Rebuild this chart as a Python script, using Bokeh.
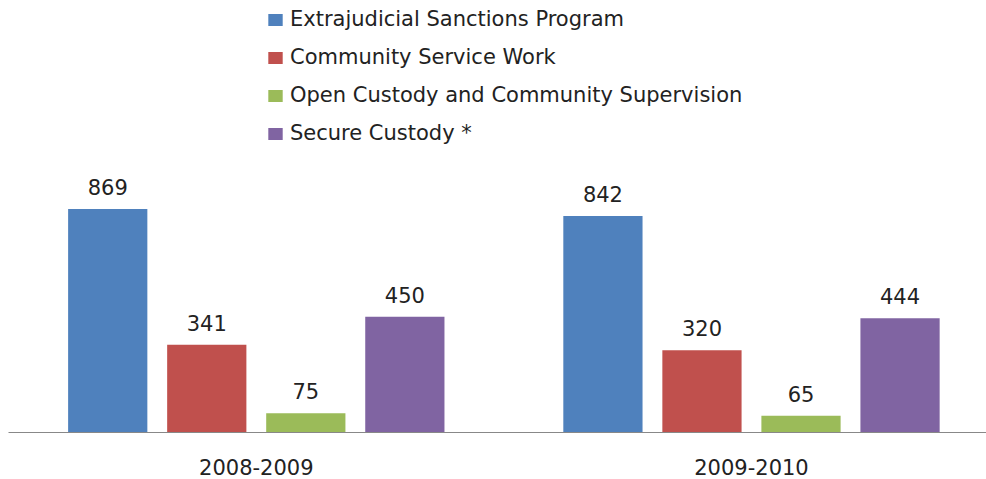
from bokeh.plotting import figure
from bokeh.models import ColumnDataSource, Range1d, FixedTicker
from bokeh.transform import dodge
from bokeh.core.properties import value
from bokeh.embed import file_html
from bokeh.resources import INLINE

years = ["2008-2009", "2009-2010"]
series = ["Extrajudicial Sanctions Program", "Community Service Work",
          "Open Custody and Community Supervision", "Secure Custody *"]
extrajudicial = [869, 842]
community_service = [341, 320]
open_custody = [75, 65]
secure_custody = [450, 444]
colors = ["#4F81BD", "#C0504D", "#9BBB59", "#8064A2"]

group_x = [i * 5 + 2 for i in range(len(years))]
values = [extrajudicial, community_service, open_custody, secure_custody]
offsets = [-1.5, -0.5, 0.5, 1.5]

FONT = "DejaVu Sans"
TEXT_COLOR = "#222222"
FS = "21px"

p = figure(width=986, height=479, output_backend="svg", toolbar_location=None,
           x_range=Range1d(-0.502, 9.373), y_range=Range1d(0, 1680),
           min_border_left=8, min_border_right=0, min_border_top=0,
           min_border_bottom=47)

for name, vals, col, off in zip(series, values, colors, offsets):
    src = ColumnDataSource(dict(x=group_x, y=vals, t=[str(v) for v in vals]))
    p.vbar(x=dodge("x", off, range=p.x_range), top="y", bottom=0, width=0.8,
           source=src, fill_color=col, line_color=None, legend_label=name)
    p.text(x=dodge("x", off, range=p.x_range), y="y", text="t", source=src,
           text_align="center", text_baseline="middle", y_offset=-22,
           text_font=value(FONT), text_font_size=FS, text_color=TEXT_COLOR)

p.yaxis.visible = False
p.xgrid.visible = False
p.ygrid.visible = False
p.outline_line_color = None
p.background_fill_color = "white"
p.border_fill_color = "white"

xa = p.xaxis[0]
xa.ticker = FixedTicker(ticks=group_x)
xa.major_label_overrides = {gx: yr for gx, yr in zip(group_x, years)}
xa.axis_line_color = "#888888"
xa.axis_line_width = 1
xa.major_tick_line_color = None
xa.minor_tick_line_color = None
xa.major_tick_in = 0
xa.major_tick_out = 0
xa.major_label_standoff = 26
xa.major_label_text_font = FONT
xa.major_label_text_font_size = FS
xa.major_label_text_color = TEXT_COLOR

lg = p.legend[0]
lg.location = (258, 287)
lg.orientation = "vertical"
lg.padding = 0
lg.margin = 0
lg.border_line_alpha = 0
lg.background_fill_alpha = 0
lg.glyph_width = 18
lg.glyph_height = 15
lg.label_height = 20
lg.spacing = 14
lg.label_standoff = 6
lg.label_text_font = FONT
lg.label_text_font_size = FS
lg.label_text_color = TEXT_COLOR

open("out.html", "w").write(file_html(p, INLINE))
